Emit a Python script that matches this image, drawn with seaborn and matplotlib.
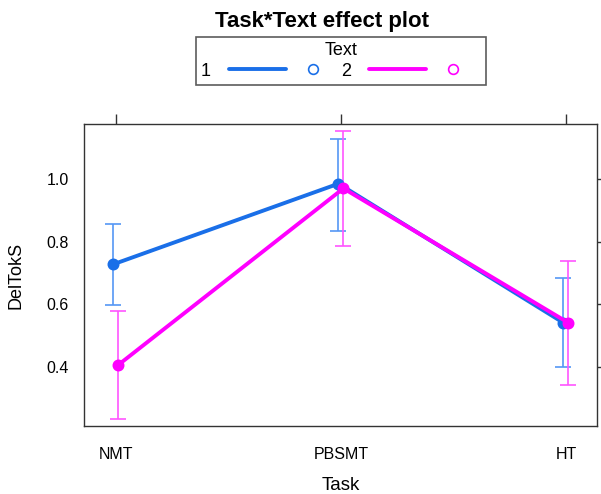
import pandas as pd
import matplotlib
matplotlib.use("Agg")
import matplotlib.pyplot as plt
import seaborn as sns
import numpy as np
from matplotlib.lines import Line2D
from matplotlib.legend_handler import HandlerTuple

# effect estimates
tasks = ["NMT", "PBSMT", "HT"]
texts = ["1", "2"]
fit_1 = [0.728, 0.985, 0.541]
lower_1 = [0.597, 0.833, 0.400]
upper_1 = [0.856, 1.127, 0.684]
fit_2 = [0.407, 0.970, 0.541]
lower_2 = [0.234, 0.785, 0.343]
upper_2 = [0.579, 1.152, 0.737]

line_cols = {"1": "#1a6fe8", "2": "#ff00ff"}
bar_cols = {"1": "#5597f5", "2": "#ff55ff"}

df = pd.DataFrame({
    "Task": tasks * 2,
    "Text": ["1"] * 3 + ["2"] * 3,
    "DelTokS": fit_1 + fit_2,
    "lower": lower_1 + lower_2,
    "upper": upper_1 + upper_2,
})

sns.set_style("white")
plt.rcParams["font.family"] = ["Liberation Sans", "DejaVu Sans"]
plt.rcParams["text.color"] = "black"
plt.rcParams["axes.labelcolor"] = "black"

fig = plt.figure(figsize=(6.01, 4.94), dpi=100)
ax = fig.add_axes([84 / 601, 1 - 426 / 494, 513 / 601, 302 / 494])

dodge = 0.022
offsets = {"1": -dodge / 2, "2": dodge / 2}

# confidence bars first so the lines sit on top
for t in texts:
    sub = df[df["Text"] == t]
    xpos = np.arange(len(tasks)) + offsets[t]
    ax.errorbar(xpos, sub["DelTokS"],
                yerr=[sub["DelTokS"] - sub["lower"], sub["upper"] - sub["DelTokS"]],
                fmt="none", ecolor=bar_cols[t], elinewidth=1.2,
                capsize=5.8, capthick=1.2, zorder=1)

sns.pointplot(data=df, x="Task", y="DelTokS", hue="Text", order=tasks,
              hue_order=texts, palette=line_cols, dodge=dodge, markers="o",
              errorbar=None, legend=False, ax=ax, markersize=6.5,
              linewidth=2.8)

ax.set_xlim(-0.142, 2.138)
ax.set_ylim(0.2117, 1.1755)
ax.set_yticks([0.4, 0.6, 0.8, 1.0])
ax.set_yticklabels(["0.4", "0.6", "0.8", "1.0"])
ax.tick_params(direction="out", length=7, width=1, color="#333333",
               top=True, right=True, labeltop=False, labelright=False,
               labelsize=11.5, labelcolor="black")
ax.tick_params(axis="x", pad=8)
ax.tick_params(axis="y", pad=4)
for s in ax.spines.values():
    s.set_color("#333333")
    s.set_linewidth(1)
ax.set_xlabel("Task", fontsize=13.5, labelpad=11)
ax.set_ylabel("DelTokS", fontsize=13, labelpad=16)

fig.text(0.536, 1 - 27 / 494, "Task*Text effect plot", ha="center",
         va="baseline", fontsize=16, fontweight="bold")

handles = []
for t in texts:
    ln = Line2D([], [], color=line_cols[t], lw=2.8)
    pt = Line2D([], [], color=line_cols[t], marker="o", mfc="none",
                ls="none", ms=7, mew=1.2)
    handles.append((ln, pt))
leg = fig.legend(handles, texts, title="Text", ncol=2, markerfirst=False,
                 loc="center", bbox_to_anchor=(341 / 601, 1 - 61 / 494),
                 handler_map={tuple: HandlerTuple(ndivide=2, pad=-0.11)},
                 handlelength=6.2, handletextpad=1.0, columnspacing=0.0,
                 borderpad=0.3, fontsize=13, title_fontsize=13,
                 frameon=True, fancybox=False, edgecolor="#333333",
                 labelspacing=0.2)
leg.get_frame().set_linewidth(1.2)

plt.savefig("out.png", dpi=100)
